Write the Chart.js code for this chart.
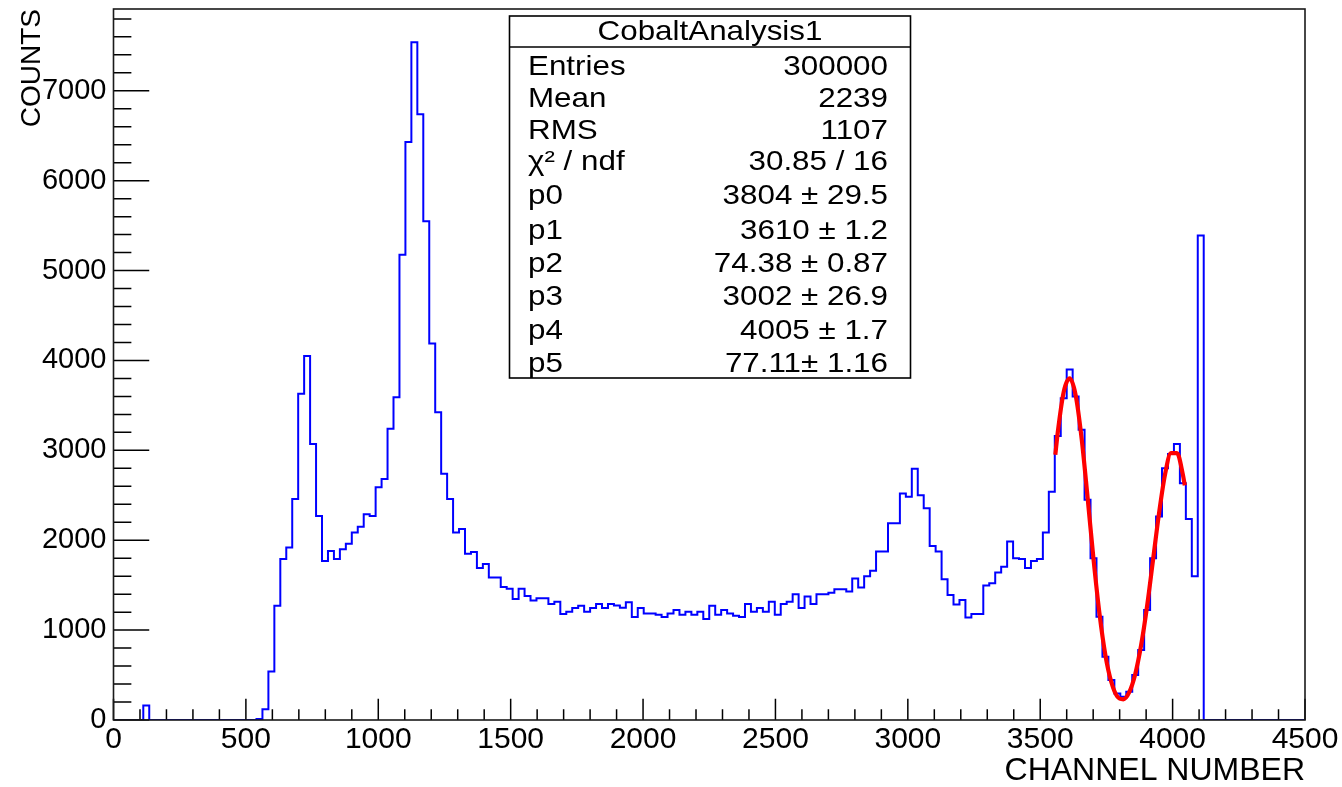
<!DOCTYPE html>
<html>
<head>
<meta charset="utf-8">
<script src="https://cdn.jsdelivr.net/npm/chart.js@4.4.1/dist/chart.umd.min.js"></script>
<style>
html,body{margin:0;padding:0;background:#ffffff;}
canvas{display:block;}
</style>
</head>
<body>
<canvas id="c" width="1342" height="787"></canvas>
<script>
// ---------------- DATA ----------------
const binWidth = 22.5;          // channels per bin (200 bins over 0..4500)
const xMin = 0;
const xMax = 4500;
const yMax = 7910;

// histogram bin contents, bin i covers [i*binWidth, (i+1)*binWidth)
const counts = [
  0,0,0,0,0,160,0,0,0,0,
  0,0,0,0,0,0,0,0,0,0,
  0,0,0,0,10,120,540,1270,1790,1920,
  2460,3630,4050,3070,2270,1770,1880,1790,1900,1960,
  2085,2150,2290,2270,2590,2680,3240,3590,5175,6430,
  7540,6740,5550,4190,3425,2740,2460,2085,2125,1850,
  1870,1690,1735,1585,1585,1480,1460,1345,1460,1380,
  1330,1355,1355,1290,1315,1180,1205,1245,1270,1205,
  1245,1290,1245,1290,1275,1250,1310,1145,1245,1185,
  1185,1170,1145,1185,1225,1170,1205,1170,1205,1125,
  1270,1170,1225,1185,1160,1145,1290,1205,1245,1205,
  1315,1170,1290,1315,1400,1245,1375,1290,1400,1400,
  1415,1455,1455,1430,1575,1475,1600,1660,1875,1875,
  2190,2190,2520,2485,2795,2500,2355,1935,1875,1565,
  1390,1285,1335,1140,1180,1180,1495,1520,1640,1705,
  1985,1800,1790,1690,1770,1790,2085,2540,3160,3580,
  3900,3600,3230,2450,1800,1150,705,445,295,260,
  315,500,780,1225,1800,2265,2800,2960,3070,2635,
  2235,1600,5390,0,0,0,0,0,0,0,
  0,0,0,0,0,0,0,0,0,0
];

// fitted curve (red)
const fitX = [3557,3566.25,3588.75,3611.25,3633.75,3656.25,3678.75,3701.25,3723.75,3746.25,3768.75,3791.25,3813.75,3836.25,3858.75,3881.25,3903.75,3926.25,3948.75,3971.25,3993.75,4016.25,4038.75,4046];
const fitY = [2950,3200,3650,3800,3615,3135,2480,1790,1185,720,420,260,230,310,510,835,1270,1785,2300,2730,2970,2970,2730,2610];

// tick labels
const xTicks = [0,500,1000,1500,2000,2500,3000,3500,4000,4500];
const yTicks = [0,1000,2000,3000,4000,5000,6000,7000];
const xMinorStep = 100, xMajorStep = 500;
const yMinorStep = 200, yMajorStep = 1000;

// stats box text
const statTitle = 'CobaltAnalysis1';
const statLabels = ['Entries','Mean','RMS','\u03C7\u00B2 / ndf','p0','p1','p2','p3','p4','p5'];
const statValues = ['300000','2239','1107','30.85 / 16','3804 \u00B1 29.5','3610 \u00B1 1.2','74.38 \u00B1 0.87','3002 \u00B1 26.9','4005 \u00B1 1.7','77.11\u00B1 1.16'];

const xTitle = 'CHANNEL NUMBER';
const yTitle = 'COUNTS';

// ---------------- BUILD ----------------
const FONT = "'Liberation Sans', Arial, Helvetica, sans-serif";
const histPoints = counts.map((c, i) => ({x: xMin + i * binWidth, y: c}));
histPoints.push({x: xMin + counts.length * binWidth, y: counts[counts.length - 1]});
const fitPoints = fitX.map((x, i) => ({x: x, y: fitY[i]}));

const rootFrame = {
  id: 'rootFrame',
  afterDatasetsDraw(chart) {
    const {ctx, chartArea: a, scales: {x, y}} = chart;
    ctx.save();
    ctx.strokeStyle = '#000';
    ctx.lineWidth = 1.5;
    ctx.beginPath();
    for (let v = xMin; v <= xMax + 1e-6; v += xMinorStep) {
      const px = x.getPixelForValue(v);
      const len = (Math.round(v) % xMajorStep === 0) ? a.height * 0.03 : a.height * 0.015;
      ctx.moveTo(px, a.bottom);
      ctx.lineTo(px, a.bottom - len);
    }
    for (let v = 0; v <= yMax; v += yMinorStep) {
      const py = y.getPixelForValue(v);
      const len = (v % yMajorStep === 0) ? a.width * 0.03 : a.width * 0.015;
      ctx.moveTo(a.left, py);
      ctx.lineTo(a.left + len, py);
    }
    ctx.stroke();
    ctx.strokeStyle = '#1a1a1a';
    ctx.lineWidth = 1.6;
    ctx.strokeRect(a.left, a.top, a.width, a.height);

    // stats box
    const bx0 = 509.5, bx1 = 910.5, by0 = 16, by1 = 378, byT = 47;
    ctx.fillStyle = '#fff';
    ctx.fillRect(bx0, by0, bx1 - bx0, by1 - by0);
    ctx.strokeStyle = '#000';
    ctx.lineWidth = 1.6;
    ctx.strokeRect(bx0, by0, bx1 - bx0, by1 - by0);
    ctx.beginPath();
    ctx.moveTo(bx0, byT); ctx.lineTo(bx1, byT);
    ctx.stroke();
    ctx.fillStyle = '#000';
    ctx.font = '28px ' + FONT;
    ctx.textBaseline = 'middle';
    const sx = 1.12;
    const drawT = (t, px, py, align) => {
      ctx.save();
      ctx.translate(px, py);
      ctx.scale(sx, 1);
      ctx.textAlign = align;
      ctx.fillText(t, 0, 0);
      ctx.restore();
    };
    drawT(statTitle, (bx0 + bx1) / 2, 32, 'center');
    const rowsY = [67, 99, 131, 162, 196, 231, 264, 297, 331, 364];
    statLabels.forEach((t, i) => drawT(t, 528, rowsY[i], 'left'));
    statValues.forEach((t, i) => drawT(t, 888, rowsY[i], 'right'));
    ctx.restore();
  }
};

new Chart(document.getElementById('c').getContext('2d'), {
  type: 'line',
  data: {
    datasets: [
      {label: 'fit', data: fitPoints, borderColor: '#ff0000', borderWidth: 4.2, pointRadius: 0,
       cubicInterpolationMode: 'monotone', fill: false, order: 0},
      {label: 'hist', data: histPoints, borderColor: '#0000ff', borderWidth: 2, pointRadius: 0,
       stepped: true, fill: false, order: 1}
    ]
  },
  options: {
    responsive: false,
    animation: false,
    devicePixelRatio: 1,
    layout: {padding: {left: 0, right: 37, top: 9, bottom: 0}},
    plugins: {legend: {display: false}, tooltip: {enabled: false}},
    scales: {
      x: {
        type: 'linear', min: xMin, max: xMax,
        grid: {display: false, drawTicks: false},
        border: {display: false},
        afterBuildTicks: s => { s.ticks = xTicks.map(v => ({value: v})); },
        ticks: {font: {family: FONT, size: 30}, color: '#000', padding: 2, maxRotation: 0, autoSkip: false,
                callback: v => String(v)},
        title: {display: true, text: xTitle, align: 'end', color: '#000',
                font: {family: FONT, size: 32, lineHeight: 1}, padding: {top: 0, bottom: 0}},
        afterFit: s => { s.height = 67; s.paddingLeft = 0; s.paddingRight = 0; }
      },
      y: {
        type: 'linear', min: 0, max: yMax,
        grid: {display: false, drawTicks: false},
        border: {display: false},
        afterBuildTicks: s => { s.ticks = yTicks.map(v => ({value: v})); },
        ticks: {font: {family: FONT, size: 29}, color: '#000', padding: 7, autoSkip: false,
                callback: v => String(v)},
        title: {display: true, text: yTitle, align: 'end', color: '#000',
                font: {family: FONT, size: 28, lineHeight: 1}, padding: {top: 18, bottom: 0}},
        afterFit: s => { s.width = 113.5; s.paddingTop = 0; s.paddingBottom = 0; }
      }
    }
  },
  plugins: [rootFrame]
});
</script>
</body>
</html>
